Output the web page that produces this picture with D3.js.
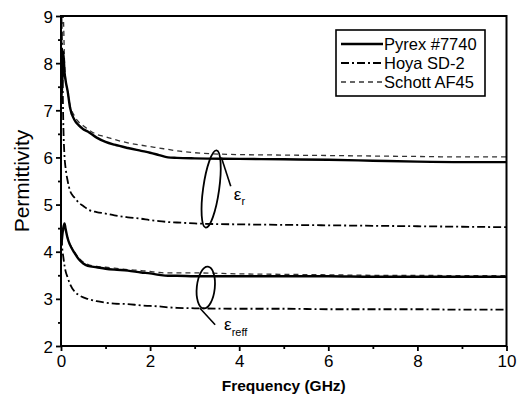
<!DOCTYPE html>
<html>
<head>
<meta charset="utf-8">
<script src="https://cdn.jsdelivr.net/npm/d3@7"></script>
<style>
  body { margin: 0; background: #fff; }
  svg { font-family: "Liberation Sans", Arial, sans-serif; }
</style>
</head>
<body>
<div id="chart"></div>
<script>
// frequency grid (GHz), shared by every series
const freq = [0.01, 0.03, 0.05, 0.08, 0.1, 0.15, 0.2, 0.3, 0.4, 0.5, 0.6, 0.8, 1.0, 1.2, 1.5, 1.8, 2.0, 2.2, 2.4, 2.6, 3, 4, 5, 6, 7, 8, 9, 10]

// relative permittivity (eps_r)
const pyrexEr  = [7.3, 7.6, 8.25, 7.8, 7.65, 7.4, 7.07, 6.8, 6.68, 6.6, 6.55, 6.42, 6.33, 6.27, 6.2, 6.14, 6.1, 6.05, 6.0, 5.99, 5.98, 5.97, 5.96, 5.95, 5.93, 5.91, 5.9, 5.9]
const hoyaEr   = [9.0, 8.0, 6.8, 6.0, 5.8, 5.5, 5.3, 5.15, 5.04, 4.97, 4.9, 4.84, 4.81, 4.77, 4.73, 4.7, 4.67, 4.65, 4.63, 4.62, 4.6, 4.58, 4.57, 4.56, 4.55, 4.54, 4.53, 4.52]
const schottEr = [8.0, 9.0, 9.0, 8.0, 7.7, 7.4, 7.12, 6.88, 6.75, 6.67, 6.6, 6.49, 6.44, 6.38, 6.31, 6.26, 6.23, 6.2, 6.17, 6.14, 6.1, 6.06, 6.05, 6.04, 6.03, 6.02, 6.01, 6.01]

// effective permittivity (eps_reff)
const pyrexEreff  = [4.15, 4.35, 4.5, 4.6, 4.5, 4.28, 4.15, 3.98, 3.84, 3.75, 3.7, 3.67, 3.64, 3.62, 3.6, 3.56, 3.54, 3.51, 3.49, 3.49, 3.48, 3.48, 3.48, 3.48, 3.47, 3.47, 3.47, 3.47]
const hoyaEreff   = [4.3, 4.05, 3.9, 3.7, 3.6, 3.45, 3.32, 3.16, 3.08, 3.03, 3.0, 2.95, 2.92, 2.9, 2.89, 2.86, 2.85, 2.84, 2.82, 2.81, 2.8, 2.79, 2.79, 2.78, 2.78, 2.78, 2.77, 2.77]
const schottEreff = [4.2, 4.4, 4.5, 4.55, 4.45, 4.3, 4.17, 4.0, 3.87, 3.78, 3.73, 3.69, 3.67, 3.65, 3.62, 3.6, 3.58, 3.56, 3.55, 3.55, 3.55, 3.53, 3.52, 3.51, 3.5, 3.5, 3.49, 3.49]

const seriesNames = ["Pyrex #7740", "Hoya SD-2", "Schott AF45"]
const xTicks = [0, 2, 4, 6, 8, 10]
const yTicks = [2, 3, 4, 5, 6, 7, 8, 9]

const styles = {
    "Pyrex #7740": {width: 2.4, dash: null, color: "#000"},
    "Hoya SD-2": {width: 1.8, dash: "8,3,2,3", color: "#000"},
    "Schott AF45": {width: 1.3, dash: "5,4", color: "#333"}
}

const W = 518, H = 404
const margin = {top: 16, right: 11.5, bottom: 58, left: 61},
    width = W - margin.left - margin.right,
    height = H - margin.top - margin.bottom;

const svg = d3.select("#chart").append("svg")
    .attr("width", W)
    .attr("height", H);

const g = svg.append("g")
    .attr("transform", `translate(${margin.left},${margin.top})`);

const x = d3.scaleLinear().domain([0, 10]).range([0, width]);
const y = d3.scaleLinear().domain([2, 9]).range([height, 0]);

g.append("clipPath").attr("id", "clip")
    .append("rect").attr("width", width).attr("height", height);

// curves
const line = d3.line()
    .x(d => x(d[0]))
    .y(d => y(d[1]))
    .curve(d3.curveMonotoneX);

const curves = [
    ["Schott AF45", schottEr], ["Schott AF45", schottEreff],
    ["Hoya SD-2", hoyaEr], ["Hoya SD-2", hoyaEreff],
    ["Pyrex #7740", pyrexEr], ["Pyrex #7740", pyrexEreff]
];

const curveGroup = g.append("g").attr("clip-path", "url(#clip)");
curves.forEach(([name, vals]) => {
    const st = styles[name];
    curveGroup.append("path")
        .datum(freq.map((f, i) => [f, vals[i]]))
        .attr("fill", "none")
        .attr("stroke", st.color)
        .attr("stroke-width", st.width)
        .attr("stroke-dasharray", st.dash)
        .attr("stroke-linejoin", "round")
        .attr("d", line);
});

// axes
const xAxis = g.append("g")
    .attr("transform", `translate(0,${height})`)
    .call(d3.axisBottom(x).tickValues(xTicks).tickSize(5).tickPadding(4).tickFormat(d3.format("d")));
const xMinor = g.append("g")
    .attr("transform", `translate(0,${height})`)
    .call(d3.axisBottom(x).tickValues(d3.range(1, 10, 2)).tickSize(3).tickFormat(""));
const yAxis = g.append("g")
    .call(d3.axisLeft(y).tickValues(yTicks).tickSize(5).tickPadding(3).tickFormat(d3.format("d")));
const yMinor = g.append("g")
    .call(d3.axisLeft(y).tickValues(d3.range(2.5, 9, 1)).tickSize(3).tickFormat(""));

[xAxis, xMinor, yAxis, yMinor].forEach(a => {
    a.select(".domain").remove();
    a.selectAll(".tick line").attr("stroke", "#000").attr("stroke-width", 1.8);
    a.selectAll(".tick text")
        .attr("fill", "#000")
        .style("font-size", "17px");
});
yAxis.selectAll(".tick text").attr("dy", "0.36em");

// frame
g.append("rect")
    .attr("width", width)
    .attr("height", height)
    .attr("fill", "none")
    .attr("stroke", "#000")
    .attr("stroke-width", 2);

// axis titles
svg.append("text")
    .attr("x", margin.left + width / 2)
    .attr("y", 391)
    .attr("text-anchor", "middle")
    .style("font-size", "15.5px")
    .style("font-weight", "bold")
    .text("Frequency (GHz)");

svg.append("text")
    .attr("transform", `translate(29,${margin.top + 165}) rotate(-90)`)
    .attr("text-anchor", "middle")
    .style("font-size", "21px")
    .text("Permittivity");

// legend
const legend = svg.append("g").attr("transform", "translate(336,30)");
legend.append("rect")
    .attr("width", 149)
    .attr("height", 66)
    .attr("fill", "#fff")
    .attr("stroke", "#000")
    .attr("stroke-width", 1.6);
seriesNames.forEach((name, i) => {
    const st = styles[name];
    const row = legend.append("g").attr("transform", `translate(0,${14 + i * 19})`);
    row.append("line")
        .attr("x1", 5).attr("x2", 47)
        .attr("stroke", st.color)
        .attr("stroke-width", st.width)
        .attr("stroke-dasharray", st.dash);
    row.append("text")
        .attr("x", 48)
        .attr("dy", "0.35em")
        .style("font-size", "16.5px")
        .text(name);
});

// annotation loops around the two groups of curves
const notes = [
    {f: 3.37, v: 5.33, rx: 8, ry: 39, rot: 8, lead: [[3.6, 6.0], [3.81, 5.39]]},
    {f: 3.25, v: 3.24, rx: 9, ry: 21, rot: 6, lead: [[3.12, 2.8], [3.46, 2.45]]}
];
notes.forEach(n => {
    g.append("ellipse")
        .attr("transform", `translate(${x(n.f)},${y(n.v)}) rotate(${n.rot})`)
        .attr("rx", n.rx).attr("ry", n.ry)
        .attr("fill", "none")
        .attr("stroke", "#000")
        .attr("stroke-width", 1.8);
    g.append("line")
        .attr("x1", x(n.lead[0][0])).attr("y1", y(n.lead[0][1]))
        .attr("x2", x(n.lead[1][0])).attr("y2", y(n.lead[1][1]))
        .attr("stroke", "#000")
        .attr("stroke-width", 1.6);
});

const er = g.append("text")
    .attr("x", x(3.88)).attr("y", y(5.1))
    .style("font-size", "17px");
er.append("tspan").text("ε");
er.append("tspan").attr("dy", 5).style("font-size", "11px").text("r");

const ereff = g.append("text")
    .attr("x", x(3.66)).attr("y", y(2.35))
    .style("font-size", "17px");
ereff.append("tspan").text("ε");
ereff.append("tspan").attr("dy", 6).style("font-size", "11px").text("reff");
</script>
</body>
</html>
